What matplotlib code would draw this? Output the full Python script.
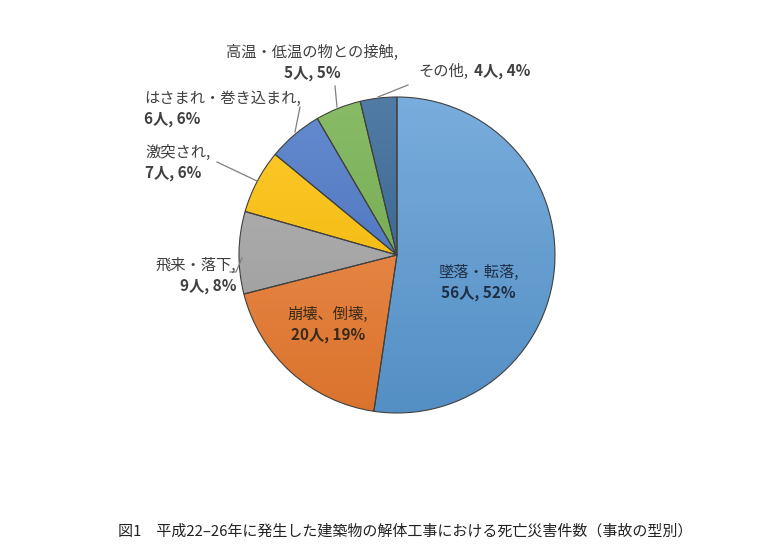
import numpy as np
import matplotlib.pyplot as plt
from matplotlib.colors import to_rgb

plt.rcParams['font.family'] = ['Noto Sans CJK JP', 'DejaVu Sans']

# 事故の型別 死亡災害件数 (平成22-26年)
categories = ['墜落・転落', '崩壊、倒壊', '飛来・落下', '激突され',
              'はさまれ・巻き込まれ', '高温・低温の物との接触', 'その他']
counts = [56, 20, 9, 7, 6, 5, 4]
percents = [52, 19, 8, 6, 6, 5, 4]
colors = ['#5b9bd5', '#ed7d31', '#a5a5a5', '#ffc000', '#4472c4', '#70ad47', '#2b5f91']

W, H = 773, 556
fig = plt.figure(figsize=(W / 100, H / 100), dpi=100)
ax = fig.add_axes([0, 0, 1, 1])

cx, cy, r = 397, H - 255, 158
wedges, _ = ax.pie(counts, colors=colors, startangle=90, counterclock=False,
                   center=(cx, cy), radius=r, frame=True,
                   wedgeprops=dict(edgecolor='#404040', linewidth=0.8))

# leichter vertikaler Verlauf wie in Excel
t = np.linspace(0, 1, 256)[:, None]
for w, c in zip(wedges, colors):
    base = np.array(to_rgb(c))
    top = base + (1 - base) * 0.18
    bot = base * 0.92
    grad = top[None, None, :] * (1 - t[..., None]) + bot[None, None, :] * t[..., None]
    grad = np.repeat(grad, 2, axis=1)
    im = ax.imshow(grad, extent=(cx - r, cx + r, cy - r, cy + r),
                   origin='upper', aspect='auto', zorder=w.get_zorder() + 0.1)
    im.set_clip_path(w)
    w.set_facecolor('none')
    w.set_zorder(w.get_zorder() + 0.2)

ax.set_xlim(0, W)
ax.set_ylim(0, H)
ax.set_aspect('equal')
ax.axis('off')

txt = '#404040'
fs = 11
# label layout: (x, y_top_px, ha)
labels = {
    0: (478, 272, 'center'),
    1: (328, 314, 'center'),
    2: (236, 265, 'right'),
    3: (145, 152, 'left'),
    4: (144, 98, 'left'),
    5: (312, 52, 'center'),
}
for i, (x, ypx, ha) in labels.items():
    col = '#1f2f45' if i == 0 else ('#3a2a1a' if i == 1 else txt)
    ax.text(x, H - ypx, categories[i] + ',', ha=ha, va='center',
            fontsize=fs, color=col)
    ax.text(x, H - ypx - 21, f'{counts[i]}人, {percents[i]}%', ha=ha,
            va='center', fontsize=fs, color=col, fontweight='bold')

ax.text(418, H - 71, categories[6] + ',', ha='left', va='center',
        fontsize=fs, color=txt)
ax.text(474, H - 71, f'{counts[6]}人, {percents[6]}%', ha='left',
        va='center', fontsize=fs, color=txt, fontweight='bold')

# leader lines (pixel coords)
leaders = [
    [(230, 272), (236, 272), (242, 258)],
    [(217, 162), (257, 181)],
    [(300, 107), (295, 132)],
    [(335, 86), (337, 107)],
    [(408, 85), (378, 97)],
]
for pts in leaders:
    xs = [p[0] for p in pts]
    ys = [H - p[1] for p in pts]
    ax.plot(xs, ys, color='#7f7f7f', linewidth=0.9)

ax.text(405, H - 531,
        '図1\u3000平成22‒26年に発生した建築物の解体工事における死亡災害件数（事故の型別）',
        ha='center', va='center', fontsize=10.8, color='#222222')

fig.savefig('out.png', dpi=100, facecolor='white')
